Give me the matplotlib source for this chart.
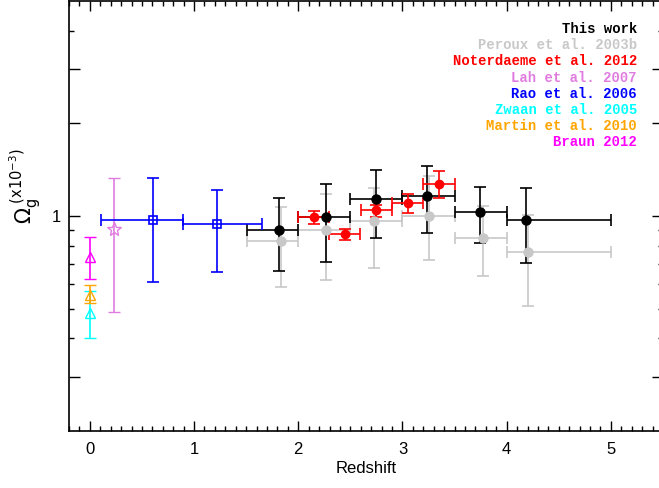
'''
Omega_g versus redshift, this work compared with literature values.
'''
import matplotlib
matplotlib.use('Agg')
import matplotlib.pyplot as plt
from matplotlib.ticker import FixedLocator, NullFormatter, FixedFormatter

plt.rcParams['font.family'] = ['Liberation Sans', 'DejaVu Sans']

# this work (black)
work_z = [1.817, 2.262, 2.742, 3.231, 3.746, 4.19]
work_zlo = [1.507, 1.996, 2.495, 3.0, 3.5, 4.0]
work_zhi = [2.0, 2.495, 2.994, 3.503, 3.999, 5.0]
work_om = [0.900, 0.990, 1.134, 1.165, 1.031, 0.968]
work_lo = [0.661, 0.709, 0.847, 0.878, 0.814, 0.702]
work_hi = [1.145, 1.272, 1.413, 1.449, 1.247, 1.232]

# Peroux et al. 2003b (grey)
per_z = [1.836, 2.268, 2.726, 3.25, 3.768, 4.20]
per_zlo = [1.507, 1.996, 2.50, 3.0, 3.5, 4.0]
per_zhi = [2.0, 2.495, 3.0, 3.5, 4.0, 5.0]
per_om = [0.829, 0.900, 0.963, 1.0, 0.847, 0.761]
per_lo = [0.588, 0.619, 0.678, 0.722, 0.640, 0.508]
per_hi = [1.072, 1.177, 1.237, 1.35, 1.08, 1.01]

# Noterdaeme et al. 2012 (red)
not_z = [2.147, 2.45, 2.745, 3.049, 3.349]
not_zlo = [1.996, 2.297, 2.598, 2.898, 3.199]
not_zhi = [2.294, 2.594, 2.898, 3.196, 3.503]
not_om = [0.990, 0.871, 1.044, 1.100, 1.275]
not_lo = [0.944, 0.835, 0.995, 1.020, 1.142]
not_hi = [1.038, 0.907, 1.089, 1.180, 1.403]

# Lah et al. 2007
lah_z = [0.233]
lah_om = [0.905]
lah_lo = [0.489]
lah_hi = [1.331]

# Rao et al. 2006
rao_z = [0.605, 1.216]
rao_zlo = [0.103, 0.895]
rao_zhi = [0.895, 1.651]
rao_om = [0.970, 0.944]
rao_lo = [0.609, 0.658]
rao_hi = [1.331, 1.219]

# z=0 points
zw_om, zw_lo, zw_hi = [0.483], [0.402], [0.570]
ma_om, ma_lo, ma_hi = [0.555], [0.521], [0.596]
br_om, br_lo, br_hi = [0.733], [0.623], [0.854]

legend_names = ['This work', 'Peroux et al. 2003b', 'Noterdaeme et al. 2012',
                'Lah et al. 2007', 'Rao et al. 2006', 'Zwaan et al. 2005',
                'Martin et al. 2010', 'Braun 2012']
legend_cols = ['black', '#c8c8c8', 'red', '#e07ce0', 'blue', 'cyan',
               'orange', 'magenta']


def yerr(v, lo, hi):
    return [[a - b for a, b in zip(v, lo)], [c - a for a, c in zip(v, hi)]]


def xerr(z, lo, hi):
    return [[a - b for a, b in zip(z, lo)], [c - a for a, c in zip(z, hi)]]


fig = plt.figure(figsize=(6.59, 4.88), dpi=100)
ax = fig.add_axes([69/659, 1 - 431/488, (663 - 69)/659, 430/488])

kw = dict(capsize=4, elinewidth=1.2, capthick=1.2, linestyle='none')

ax.errorbar(per_z, per_om, yerr=yerr(per_om, per_lo, per_hi),
            xerr=xerr(per_z, per_zlo, per_zhi), color='#c8c8c8',
            marker='o', ms=6.5, **kw)
ax.errorbar(work_z, work_om, yerr=yerr(work_om, work_lo, work_hi),
            xerr=xerr(work_z, work_zlo, work_zhi), color='black',
            marker='o', ms=6.5, **kw)
ax.errorbar(not_z, not_om, yerr=yerr(not_om, not_lo, not_hi),
            xerr=xerr(not_z, not_zlo, not_zhi), color='red',
            marker='o', ms=6, **kw)
ax.errorbar(lah_z, lah_om, yerr=yerr(lah_om, lah_lo, lah_hi), color='#e07ce0',
            marker='*', ms=10, mfc='none', mew=1, **kw)
ax.errorbar(rao_z, rao_om, yerr=yerr(rao_om, rao_lo, rao_hi),
            xerr=xerr(rao_z, rao_zlo, rao_zhi), color='blue',
            marker='s', ms=6, mfc='none', mew=1.2, **kw)
ax.errorbar([0], zw_om, yerr=yerr(zw_om, zw_lo, zw_hi), color='cyan',
            marker='^', ms=7, mfc='none', mew=1, **kw)
ax.errorbar([0], ma_om, yerr=yerr(ma_om, ma_lo, ma_hi), color='orange',
            marker='^', ms=7, mfc='none', mew=1, **kw)
ax.errorbar([0], br_om, yerr=yerr(br_om, br_lo, br_hi), color='magenta',
            marker='^', ms=7, mfc='none', mew=1, **kw)

ax.set_yscale('log')
ax.set_xlim(-0.2, 5.5)
ax.set_ylim(0.2, 5)

ax.xaxis.set_major_locator(FixedLocator([0, 1, 2, 3, 4, 5]))
ax.xaxis.set_minor_locator(FixedLocator([i/10 for i in range(-2, 56)]))
ax.yaxis.set_major_locator(FixedLocator([0.3, 1, 2, 3]))
ax.yaxis.set_major_formatter(FixedFormatter(['', '1', '', '']))
ax.yaxis.set_minor_locator(FixedLocator([0.4, 0.5, 0.6, 0.7, 0.8, 0.9, 4]))
ax.yaxis.set_minor_formatter(NullFormatter())

ax.tick_params(which='both', direction='in', top=True, right=True,
               labelsize=12, width=1)
ax.tick_params(which='major', length=7)
ax.tick_params(which='minor', length=3.5)
ax.tick_params(axis='y', which='major', length=8)
ax.tick_params(axis='x', pad=8)
ax.tick_params(axis='y', pad=6)
for s in ax.spines.values():
    s.set_linewidth(1.2)

ax.set_xlabel('Redshift', fontsize=12, labelpad=3)
fig.text(25/659, 1 - 224/488, r'$\Omega_{\mathrm{g}}^{\ (\mathrm{x}10^{-3})}$',
         rotation=90, ha='center', va='bottom', fontsize=15)

for i, (name, col) in enumerate(zip(legend_names, legend_cols)):
    fig.text(637/659, 1 - (29 + 16.2*i)/488, name, color=col, ha='right',
             va='center', fontsize=10, family='Liberation Mono',
             fontweight='bold')

fig.savefig('out.png', dpi=100)
